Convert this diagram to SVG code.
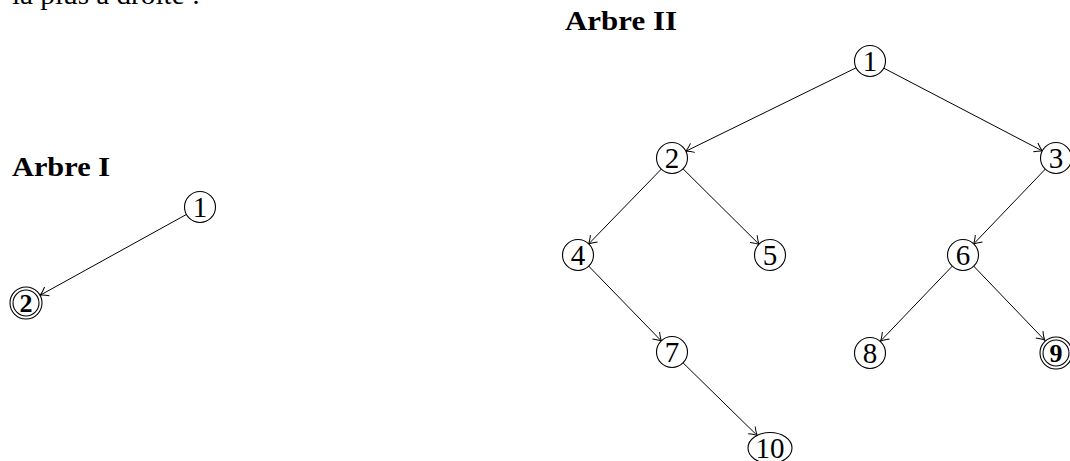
<svg xmlns="http://www.w3.org/2000/svg" width="1070" height="461" viewBox="0 0 1070 461">
<style>
.t{font-family:"Liberation Serif","DejaVu Serif",serif;font-size:28px;fill:#000}
.h{font-family:"Liberation Serif","DejaVu Serif",serif;font-size:28px;font-weight:bold;fill:#000}
.n{font-family:"Liberation Serif","DejaVu Serif",serif;font-size:29px;fill:#000;text-anchor:middle}
.b{font-weight:bold;font-size:26px}
.c{fill:#fff;stroke:#000;stroke-width:1.1}
.e{stroke:#000;stroke-width:1;fill:none;marker-end:url(#arr)}
</style>
<defs>
<marker id="arr" markerUnits="userSpaceOnUse" markerWidth="14" markerHeight="14" viewBox="-10 -7 12 14" refX="0" refY="0" orient="auto">
<path d="M -8 -5 Q -3 -1 0 0 Q -3 1 -8 5" fill="none" stroke="#000" stroke-width="1"/>
</marker>
</defs>
<text class="t" x="12" y="4" textLength="188" lengthAdjust="spacingAndGlyphs">la plus à droite :</text>
<text class="h" x="12" y="176" textLength="98" lengthAdjust="spacingAndGlyphs">Arbre I</text>
<text class="h" x="565" y="30" textLength="112" lengthAdjust="spacingAndGlyphs">Arbre II</text>
<g id="edges">
<line class="e" x1="186.9" y1="214.2" x2="40" y2="295.3"/>
<line class="e" x1="856.5" y1="67.6" x2="685.5" y2="151.4"/>
<line class="e" x1="883.3" y1="67.9" x2="1042.7" y2="151.1"/>
<line class="e" x1="661.6" y1="168.8" x2="588.4" y2="244.2"/>
<line class="e" x1="682.7" y1="168.5" x2="759.3" y2="244.5"/>
<line class="e" x1="1045.6" y1="168.8" x2="973.4" y2="244.2"/>
<line class="e" x1="588.4" y1="265.8" x2="661.6" y2="341.2"/>
<line class="e" x1="952.6" y1="265.8" x2="880.4" y2="341.2"/>
<line class="e" x1="973.4" y1="265.8" x2="1044.9" y2="340.4"/>
<line class="e" x1="682.7" y1="362.5" x2="757.4" y2="435.7"/>
</g>
<g id="I-n1"><circle class="c" cx="200" cy="207" r="15.5"/><text class="n" x="200" y="217">1</text></g>
<g id="I-n2"><circle class="c" cx="26" cy="303" r="16"/><circle class="c" cx="26" cy="303" r="13"/><text class="n b" x="26" y="312">2</text></g>
<g id="II-n1"><circle class="c" cx="870" cy="61" r="15.5"/><text class="n" x="870" y="71">1</text></g>
<g id="II-n2"><circle class="c" cx="672" cy="158" r="15.5"/><text class="n" x="672" y="168">2</text></g>
<g id="II-n3"><circle class="c" cx="1056" cy="158" r="15.5"/><text class="n" x="1056" y="168">3</text></g>
<g id="II-n4"><circle class="c" cx="578" cy="255" r="15.5"/><text class="n" x="578" y="265">4</text></g>
<g id="II-n5"><circle class="c" cx="770" cy="255" r="15.5"/><text class="n" x="770" y="265">5</text></g>
<g id="II-n6"><circle class="c" cx="963" cy="255" r="15.5"/><text class="n" x="963" y="265">6</text></g>
<g id="II-n7"><circle class="c" cx="672" cy="352" r="15.5"/><text class="n" x="672" y="362">7</text></g>
<g id="II-n8"><circle class="c" cx="870" cy="353" r="15.5"/><text class="n" x="870" y="363">8</text></g>
<g id="II-n9"><circle class="c" cx="1056" cy="353" r="16"/><circle class="c" cx="1056" cy="353" r="13"/><text class="n b" x="1056" y="362">9</text></g>
<g id="II-n10"><ellipse class="c" cx="770" cy="448" rx="22" ry="15.5"/><text class="n" x="770" y="458">10</text></g>
</svg>
